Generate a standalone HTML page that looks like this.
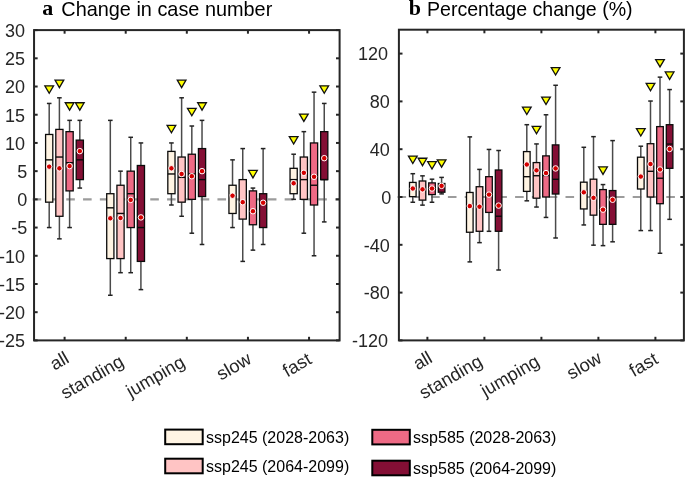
<!DOCTYPE html>
<html><head><meta charset="utf-8"><style>
html,body{margin:0;padding:0;background:#fff;}
svg{display:block;will-change:transform;}
.tk{font-family:"Liberation Sans",sans-serif;font-size:18px;fill:#262626;}
.xl{font-family:"Liberation Sans",sans-serif;font-size:18.3px;fill:#262626;}
.lg{font-family:"Liberation Sans",sans-serif;font-size:16px;fill:#000;}
.tt{font-family:"Liberation Sans",sans-serif;font-size:20.4px;fill:#000;}
.tb{font-family:"Liberation Serif",serif;font-weight:bold;font-size:22px;fill:#000;}
</style></head><body>
<svg width="685" height="477" viewBox="0 0 685 477">
<rect width="685" height="477" fill="#fff"/>
<line x1="32.65" y1="199.35" x2="339.6" y2="199.35" stroke="#9c9c9c" stroke-width="2.2" stroke-dasharray="8.6 8.2"/>
<line x1="49.20" y1="103.44" x2="49.20" y2="134.47" stroke="#4a4a4a" stroke-width="1.5"/>
<line x1="49.20" y1="202.18" x2="49.20" y2="227.56" stroke="#4a4a4a" stroke-width="1.5"/>
<line x1="46.90" y1="103.44" x2="51.50" y2="103.44" stroke="#222" stroke-width="1.5"/>
<line x1="46.90" y1="227.56" x2="51.50" y2="227.56" stroke="#222" stroke-width="1.5"/>
<rect x="45.60" y="134.47" width="7.20" height="67.70" fill="#FFF4E3" stroke="#0a0a0a" stroke-width="1.3"/>
<line x1="45.60" y1="159.86" x2="52.80" y2="159.86" stroke="#0a0a0a" stroke-width="1.4"/>
<circle cx="49.20" cy="166.63" r="2.75" fill="#D40000" stroke="#fff" stroke-width="1.0"/>
<path d="M44.85,85.84 L53.55,85.84 L49.20,93.24 Z" fill="#FFFF00" stroke="#111" stroke-width="1.3"/>
<line x1="59.40" y1="97.80" x2="59.40" y2="129.40" stroke="#4a4a4a" stroke-width="1.5"/>
<line x1="59.40" y1="216.28" x2="59.40" y2="238.85" stroke="#4a4a4a" stroke-width="1.5"/>
<line x1="57.10" y1="97.80" x2="61.70" y2="97.80" stroke="#222" stroke-width="1.5"/>
<line x1="57.10" y1="238.85" x2="61.70" y2="238.85" stroke="#222" stroke-width="1.5"/>
<rect x="55.80" y="129.40" width="7.20" height="86.88" fill="#FFC4C4" stroke="#0a0a0a" stroke-width="1.3"/>
<line x1="55.80" y1="157.04" x2="63.00" y2="157.04" stroke="#0a0a0a" stroke-width="1.4"/>
<circle cx="59.40" cy="168.32" r="2.75" fill="#D40000" stroke="#fff" stroke-width="1.0"/>
<path d="M55.05,80.20 L63.75,80.20 L59.40,87.60 Z" fill="#FFFF00" stroke="#111" stroke-width="1.3"/>
<line x1="69.60" y1="120.37" x2="69.60" y2="131.65" stroke="#4a4a4a" stroke-width="1.5"/>
<line x1="69.60" y1="190.89" x2="69.60" y2="227.56" stroke="#4a4a4a" stroke-width="1.5"/>
<line x1="67.30" y1="120.37" x2="71.90" y2="120.37" stroke="#222" stroke-width="1.5"/>
<line x1="67.30" y1="227.56" x2="71.90" y2="227.56" stroke="#222" stroke-width="1.5"/>
<rect x="66.00" y="131.65" width="7.20" height="59.24" fill="#EE6A85" stroke="#0a0a0a" stroke-width="1.3"/>
<line x1="66.00" y1="162.68" x2="73.20" y2="162.68" stroke="#0a0a0a" stroke-width="1.4"/>
<circle cx="69.60" cy="166.07" r="2.75" fill="#D40000" stroke="#fff" stroke-width="1.0"/>
<path d="M65.25,102.77 L73.95,102.77 L69.60,110.17 Z" fill="#FFFF00" stroke="#111" stroke-width="1.3"/>
<line x1="79.80" y1="120.37" x2="79.80" y2="140.12" stroke="#4a4a4a" stroke-width="1.5"/>
<line x1="79.80" y1="179.61" x2="79.80" y2="188.07" stroke="#4a4a4a" stroke-width="1.5"/>
<line x1="77.50" y1="120.37" x2="82.10" y2="120.37" stroke="#222" stroke-width="1.5"/>
<line x1="77.50" y1="188.07" x2="82.10" y2="188.07" stroke="#222" stroke-width="1.5"/>
<rect x="76.20" y="140.12" width="7.20" height="39.49" fill="#840F35" stroke="#0a0a0a" stroke-width="1.3"/>
<line x1="76.20" y1="159.86" x2="83.40" y2="159.86" stroke="#0a0a0a" stroke-width="1.4"/>
<circle cx="79.80" cy="151.12" r="2.75" fill="#D40000" stroke="#fff" stroke-width="1.0"/>
<path d="M75.45,102.77 L84.15,102.77 L79.80,110.17 Z" fill="#FFFF00" stroke="#111" stroke-width="1.3"/>
<line x1="110.31" y1="120.37" x2="110.31" y2="193.71" stroke="#4a4a4a" stroke-width="1.5"/>
<line x1="110.31" y1="258.59" x2="110.31" y2="295.27" stroke="#4a4a4a" stroke-width="1.5"/>
<line x1="108.02" y1="120.37" x2="112.61" y2="120.37" stroke="#222" stroke-width="1.5"/>
<line x1="108.02" y1="295.27" x2="112.61" y2="295.27" stroke="#222" stroke-width="1.5"/>
<rect x="106.72" y="193.71" width="7.20" height="64.88" fill="#FFF4E3" stroke="#0a0a0a" stroke-width="1.3"/>
<line x1="106.72" y1="207.82" x2="113.91" y2="207.82" stroke="#0a0a0a" stroke-width="1.4"/>
<circle cx="110.31" cy="218.31" r="2.75" fill="#D40000" stroke="#fff" stroke-width="1.0"/>
<line x1="120.52" y1="171.15" x2="120.52" y2="185.25" stroke="#4a4a4a" stroke-width="1.5"/>
<line x1="120.52" y1="258.59" x2="120.52" y2="272.70" stroke="#4a4a4a" stroke-width="1.5"/>
<line x1="118.22" y1="171.15" x2="122.81" y2="171.15" stroke="#222" stroke-width="1.5"/>
<line x1="118.22" y1="272.70" x2="122.81" y2="272.70" stroke="#222" stroke-width="1.5"/>
<rect x="116.92" y="185.25" width="7.20" height="73.34" fill="#FFC4C4" stroke="#0a0a0a" stroke-width="1.3"/>
<line x1="116.92" y1="213.46" x2="124.11" y2="213.46" stroke="#0a0a0a" stroke-width="1.4"/>
<circle cx="120.52" cy="217.97" r="2.75" fill="#D40000" stroke="#fff" stroke-width="1.0"/>
<line x1="130.72" y1="137.29" x2="130.72" y2="171.15" stroke="#4a4a4a" stroke-width="1.5"/>
<line x1="130.72" y1="227.56" x2="130.72" y2="272.70" stroke="#4a4a4a" stroke-width="1.5"/>
<line x1="128.41" y1="137.29" x2="133.02" y2="137.29" stroke="#222" stroke-width="1.5"/>
<line x1="128.41" y1="272.70" x2="133.02" y2="272.70" stroke="#222" stroke-width="1.5"/>
<rect x="127.12" y="171.15" width="7.20" height="56.42" fill="#EE6A85" stroke="#0a0a0a" stroke-width="1.3"/>
<line x1="127.12" y1="193.71" x2="134.31" y2="193.71" stroke="#0a0a0a" stroke-width="1.4"/>
<circle cx="130.72" cy="199.92" r="2.75" fill="#D40000" stroke="#fff" stroke-width="1.0"/>
<line x1="140.91" y1="142.94" x2="140.91" y2="165.50" stroke="#4a4a4a" stroke-width="1.5"/>
<line x1="140.91" y1="261.41" x2="140.91" y2="289.62" stroke="#4a4a4a" stroke-width="1.5"/>
<line x1="138.61" y1="142.94" x2="143.22" y2="142.94" stroke="#222" stroke-width="1.5"/>
<line x1="138.61" y1="289.62" x2="143.22" y2="289.62" stroke="#222" stroke-width="1.5"/>
<rect x="137.31" y="165.50" width="7.20" height="95.91" fill="#840F35" stroke="#0a0a0a" stroke-width="1.3"/>
<line x1="137.31" y1="227.56" x2="144.51" y2="227.56" stroke="#0a0a0a" stroke-width="1.4"/>
<circle cx="140.91" cy="217.41" r="2.75" fill="#D40000" stroke="#fff" stroke-width="1.0"/>
<line x1="171.42" y1="142.94" x2="171.42" y2="151.40" stroke="#4a4a4a" stroke-width="1.5"/>
<line x1="171.42" y1="193.71" x2="171.42" y2="205.00" stroke="#4a4a4a" stroke-width="1.5"/>
<line x1="169.12" y1="142.94" x2="173.72" y2="142.94" stroke="#222" stroke-width="1.5"/>
<line x1="169.12" y1="205.00" x2="173.72" y2="205.00" stroke="#222" stroke-width="1.5"/>
<rect x="167.82" y="151.40" width="7.20" height="42.31" fill="#FFF4E3" stroke="#0a0a0a" stroke-width="1.3"/>
<line x1="167.82" y1="173.97" x2="175.02" y2="173.97" stroke="#0a0a0a" stroke-width="1.4"/>
<circle cx="171.42" cy="168.32" r="2.75" fill="#D40000" stroke="#fff" stroke-width="1.0"/>
<path d="M167.07,125.34 L175.77,125.34 L171.42,132.74 Z" fill="#FFFF00" stroke="#111" stroke-width="1.3"/>
<line x1="181.62" y1="97.80" x2="181.62" y2="157.04" stroke="#4a4a4a" stroke-width="1.5"/>
<line x1="181.62" y1="202.18" x2="181.62" y2="216.28" stroke="#4a4a4a" stroke-width="1.5"/>
<line x1="179.32" y1="97.80" x2="183.93" y2="97.80" stroke="#222" stroke-width="1.5"/>
<line x1="179.32" y1="216.28" x2="183.93" y2="216.28" stroke="#222" stroke-width="1.5"/>
<rect x="178.03" y="157.04" width="7.20" height="45.13" fill="#FFC4C4" stroke="#0a0a0a" stroke-width="1.3"/>
<line x1="178.03" y1="177.35" x2="185.22" y2="177.35" stroke="#0a0a0a" stroke-width="1.4"/>
<circle cx="181.62" cy="173.97" r="2.75" fill="#D40000" stroke="#fff" stroke-width="1.0"/>
<path d="M177.28,80.20 L185.97,80.20 L181.62,87.60 Z" fill="#FFFF00" stroke="#111" stroke-width="1.3"/>
<line x1="191.82" y1="126.01" x2="191.82" y2="154.22" stroke="#4a4a4a" stroke-width="1.5"/>
<line x1="191.82" y1="199.35" x2="191.82" y2="233.21" stroke="#4a4a4a" stroke-width="1.5"/>
<line x1="189.52" y1="126.01" x2="194.12" y2="126.01" stroke="#222" stroke-width="1.5"/>
<line x1="189.52" y1="233.21" x2="194.12" y2="233.21" stroke="#222" stroke-width="1.5"/>
<rect x="188.22" y="154.22" width="7.20" height="45.13" fill="#EE6A85" stroke="#0a0a0a" stroke-width="1.3"/>
<line x1="188.22" y1="173.97" x2="195.42" y2="173.97" stroke="#0a0a0a" stroke-width="1.4"/>
<circle cx="191.82" cy="176.22" r="2.75" fill="#D40000" stroke="#fff" stroke-width="1.0"/>
<path d="M187.47,108.41 L196.17,108.41 L191.82,115.81 Z" fill="#FFFF00" stroke="#111" stroke-width="1.3"/>
<line x1="202.02" y1="120.37" x2="202.02" y2="148.58" stroke="#4a4a4a" stroke-width="1.5"/>
<line x1="202.02" y1="196.53" x2="202.02" y2="244.49" stroke="#4a4a4a" stroke-width="1.5"/>
<line x1="199.72" y1="120.37" x2="204.32" y2="120.37" stroke="#222" stroke-width="1.5"/>
<line x1="199.72" y1="244.49" x2="204.32" y2="244.49" stroke="#222" stroke-width="1.5"/>
<rect x="198.42" y="148.58" width="7.20" height="47.96" fill="#840F35" stroke="#0a0a0a" stroke-width="1.3"/>
<line x1="198.42" y1="179.61" x2="205.62" y2="179.61" stroke="#0a0a0a" stroke-width="1.4"/>
<circle cx="202.02" cy="171.15" r="2.75" fill="#D40000" stroke="#fff" stroke-width="1.0"/>
<path d="M197.67,102.77 L206.37,102.77 L202.02,110.17 Z" fill="#FFFF00" stroke="#111" stroke-width="1.3"/>
<line x1="232.53" y1="159.86" x2="232.53" y2="185.25" stroke="#4a4a4a" stroke-width="1.5"/>
<line x1="232.53" y1="213.46" x2="232.53" y2="227.56" stroke="#4a4a4a" stroke-width="1.5"/>
<line x1="230.23" y1="159.86" x2="234.84" y2="159.86" stroke="#222" stroke-width="1.5"/>
<line x1="230.23" y1="227.56" x2="234.84" y2="227.56" stroke="#222" stroke-width="1.5"/>
<rect x="228.94" y="185.25" width="7.20" height="28.21" fill="#FFF4E3" stroke="#0a0a0a" stroke-width="1.3"/>
<line x1="228.94" y1="195.97" x2="236.13" y2="195.97" stroke="#0a0a0a" stroke-width="1.4"/>
<circle cx="232.53" cy="195.69" r="2.75" fill="#D40000" stroke="#fff" stroke-width="1.0"/>
<line x1="242.74" y1="148.58" x2="242.74" y2="179.61" stroke="#4a4a4a" stroke-width="1.5"/>
<line x1="242.74" y1="219.10" x2="242.74" y2="261.41" stroke="#4a4a4a" stroke-width="1.5"/>
<line x1="240.44" y1="148.58" x2="245.04" y2="148.58" stroke="#222" stroke-width="1.5"/>
<line x1="240.44" y1="261.41" x2="245.04" y2="261.41" stroke="#222" stroke-width="1.5"/>
<rect x="239.14" y="179.61" width="7.20" height="39.49" fill="#FFC4C4" stroke="#0a0a0a" stroke-width="1.3"/>
<line x1="239.14" y1="202.18" x2="246.34" y2="202.18" stroke="#0a0a0a" stroke-width="1.4"/>
<circle cx="242.74" cy="202.18" r="2.75" fill="#D40000" stroke="#fff" stroke-width="1.0"/>
<line x1="252.94" y1="188.07" x2="252.94" y2="190.89" stroke="#4a4a4a" stroke-width="1.5"/>
<line x1="252.94" y1="224.74" x2="252.94" y2="250.13" stroke="#4a4a4a" stroke-width="1.5"/>
<line x1="250.63" y1="188.07" x2="255.24" y2="188.07" stroke="#222" stroke-width="1.5"/>
<line x1="250.63" y1="250.13" x2="255.24" y2="250.13" stroke="#222" stroke-width="1.5"/>
<rect x="249.34" y="190.89" width="7.20" height="33.85" fill="#EE6A85" stroke="#0a0a0a" stroke-width="1.3"/>
<line x1="249.34" y1="210.64" x2="256.54" y2="210.64" stroke="#0a0a0a" stroke-width="1.4"/>
<circle cx="252.94" cy="211.20" r="2.75" fill="#D40000" stroke="#fff" stroke-width="1.0"/>
<path d="M248.59,170.47 L257.29,170.47 L252.94,177.87 Z" fill="#FFFF00" stroke="#111" stroke-width="1.3"/>
<line x1="263.13" y1="148.58" x2="263.13" y2="193.71" stroke="#4a4a4a" stroke-width="1.5"/>
<line x1="263.13" y1="227.56" x2="263.13" y2="244.49" stroke="#4a4a4a" stroke-width="1.5"/>
<line x1="260.83" y1="148.58" x2="265.44" y2="148.58" stroke="#222" stroke-width="1.5"/>
<line x1="260.83" y1="244.49" x2="265.44" y2="244.49" stroke="#222" stroke-width="1.5"/>
<rect x="259.53" y="193.71" width="7.20" height="33.85" fill="#840F35" stroke="#0a0a0a" stroke-width="1.3"/>
<line x1="259.53" y1="202.74" x2="266.74" y2="202.74" stroke="#0a0a0a" stroke-width="1.4"/>
<circle cx="263.13" cy="202.74" r="2.75" fill="#D40000" stroke="#fff" stroke-width="1.0"/>
<line x1="293.65" y1="154.22" x2="293.65" y2="168.32" stroke="#4a4a4a" stroke-width="1.5"/>
<line x1="293.65" y1="193.71" x2="293.65" y2="199.35" stroke="#4a4a4a" stroke-width="1.5"/>
<line x1="291.35" y1="154.22" x2="295.95" y2="154.22" stroke="#222" stroke-width="1.5"/>
<line x1="291.35" y1="199.35" x2="295.95" y2="199.35" stroke="#222" stroke-width="1.5"/>
<rect x="290.05" y="168.32" width="7.20" height="25.39" fill="#FFF4E3" stroke="#0a0a0a" stroke-width="1.3"/>
<line x1="290.05" y1="179.61" x2="297.25" y2="179.61" stroke="#0a0a0a" stroke-width="1.4"/>
<circle cx="293.65" cy="183.28" r="2.75" fill="#D40000" stroke="#fff" stroke-width="1.0"/>
<path d="M289.30,136.62 L298.00,136.62 L293.65,144.02 Z" fill="#FFFF00" stroke="#111" stroke-width="1.3"/>
<line x1="303.85" y1="131.65" x2="303.85" y2="157.04" stroke="#4a4a4a" stroke-width="1.5"/>
<line x1="303.85" y1="199.35" x2="303.85" y2="233.21" stroke="#4a4a4a" stroke-width="1.5"/>
<line x1="301.55" y1="131.65" x2="306.15" y2="131.65" stroke="#222" stroke-width="1.5"/>
<line x1="301.55" y1="233.21" x2="306.15" y2="233.21" stroke="#222" stroke-width="1.5"/>
<rect x="300.25" y="157.04" width="7.20" height="42.31" fill="#FFC4C4" stroke="#0a0a0a" stroke-width="1.3"/>
<line x1="300.25" y1="179.61" x2="307.45" y2="179.61" stroke="#0a0a0a" stroke-width="1.4"/>
<circle cx="303.85" cy="172.84" r="2.75" fill="#D40000" stroke="#fff" stroke-width="1.0"/>
<path d="M299.50,114.05 L308.20,114.05 L303.85,121.45 Z" fill="#FFFF00" stroke="#111" stroke-width="1.3"/>
<line x1="314.05" y1="92.16" x2="314.05" y2="142.94" stroke="#4a4a4a" stroke-width="1.5"/>
<line x1="314.05" y1="205.00" x2="314.05" y2="255.77" stroke="#4a4a4a" stroke-width="1.5"/>
<line x1="311.75" y1="92.16" x2="316.35" y2="92.16" stroke="#222" stroke-width="1.5"/>
<line x1="311.75" y1="255.77" x2="316.35" y2="255.77" stroke="#222" stroke-width="1.5"/>
<rect x="310.44" y="142.94" width="7.20" height="62.06" fill="#EE6A85" stroke="#0a0a0a" stroke-width="1.3"/>
<line x1="310.44" y1="185.25" x2="317.65" y2="185.25" stroke="#0a0a0a" stroke-width="1.4"/>
<circle cx="314.05" cy="176.79" r="2.75" fill="#D40000" stroke="#fff" stroke-width="1.0"/>
<line x1="324.25" y1="103.44" x2="324.25" y2="131.65" stroke="#4a4a4a" stroke-width="1.5"/>
<line x1="324.25" y1="179.61" x2="324.25" y2="221.92" stroke="#4a4a4a" stroke-width="1.5"/>
<line x1="321.94" y1="103.44" x2="326.55" y2="103.44" stroke="#222" stroke-width="1.5"/>
<line x1="321.94" y1="221.92" x2="326.55" y2="221.92" stroke="#222" stroke-width="1.5"/>
<rect x="320.64" y="131.65" width="7.20" height="47.96" fill="#840F35" stroke="#0a0a0a" stroke-width="1.3"/>
<line x1="320.64" y1="179.61" x2="327.85" y2="179.61" stroke="#0a0a0a" stroke-width="1.4"/>
<circle cx="324.25" cy="158.17" r="2.75" fill="#D40000" stroke="#fff" stroke-width="1.0"/>
<path d="M319.89,85.84 L328.60,85.84 L324.25,93.24 Z" fill="#FFFF00" stroke="#111" stroke-width="1.3"/>
<rect x="34.05" y="30.1" width="305.55" height="310.30" fill="none" stroke="#262626" stroke-width="2"/>
<line x1="34.05" y1="30.10" x2="37.65" y2="30.10" stroke="#262626" stroke-width="2"/>
<line x1="339.6" y1="30.10" x2="336.0" y2="30.10" stroke="#262626" stroke-width="2"/>
<text x="25.10" y="36.90" text-anchor="end" class="tk">30</text>
<line x1="34.05" y1="58.31" x2="37.65" y2="58.31" stroke="#262626" stroke-width="2"/>
<line x1="339.6" y1="58.31" x2="336.0" y2="58.31" stroke="#262626" stroke-width="2"/>
<text x="25.10" y="65.11" text-anchor="end" class="tk">25</text>
<line x1="34.05" y1="86.52" x2="37.65" y2="86.52" stroke="#262626" stroke-width="2"/>
<line x1="339.6" y1="86.52" x2="336.0" y2="86.52" stroke="#262626" stroke-width="2"/>
<text x="25.10" y="93.32" text-anchor="end" class="tk">20</text>
<line x1="34.05" y1="114.73" x2="37.65" y2="114.73" stroke="#262626" stroke-width="2"/>
<line x1="339.6" y1="114.73" x2="336.0" y2="114.73" stroke="#262626" stroke-width="2"/>
<text x="25.10" y="121.53" text-anchor="end" class="tk">15</text>
<line x1="34.05" y1="142.94" x2="37.65" y2="142.94" stroke="#262626" stroke-width="2"/>
<line x1="339.6" y1="142.94" x2="336.0" y2="142.94" stroke="#262626" stroke-width="2"/>
<text x="25.10" y="149.74" text-anchor="end" class="tk">10</text>
<line x1="34.05" y1="171.15" x2="37.65" y2="171.15" stroke="#262626" stroke-width="2"/>
<line x1="339.6" y1="171.15" x2="336.0" y2="171.15" stroke="#262626" stroke-width="2"/>
<text x="27.20" y="177.95" text-anchor="end" class="tk">5</text>
<line x1="34.05" y1="199.35" x2="37.65" y2="199.35" stroke="#262626" stroke-width="2"/>
<line x1="339.6" y1="199.35" x2="336.0" y2="199.35" stroke="#262626" stroke-width="2"/>
<text x="27.20" y="206.15" text-anchor="end" class="tk">0</text>
<line x1="34.05" y1="227.56" x2="37.65" y2="227.56" stroke="#262626" stroke-width="2"/>
<line x1="339.6" y1="227.56" x2="336.0" y2="227.56" stroke="#262626" stroke-width="2"/>
<text x="27.20" y="234.36" text-anchor="end" class="tk">-5</text>
<line x1="34.05" y1="255.77" x2="37.65" y2="255.77" stroke="#262626" stroke-width="2"/>
<line x1="339.6" y1="255.77" x2="336.0" y2="255.77" stroke="#262626" stroke-width="2"/>
<text x="25.10" y="262.57" text-anchor="end" class="tk">-10</text>
<line x1="34.05" y1="283.98" x2="37.65" y2="283.98" stroke="#262626" stroke-width="2"/>
<line x1="339.6" y1="283.98" x2="336.0" y2="283.98" stroke="#262626" stroke-width="2"/>
<text x="25.10" y="290.78" text-anchor="end" class="tk">-15</text>
<line x1="34.05" y1="312.19" x2="37.65" y2="312.19" stroke="#262626" stroke-width="2"/>
<line x1="339.6" y1="312.19" x2="336.0" y2="312.19" stroke="#262626" stroke-width="2"/>
<text x="25.10" y="318.99" text-anchor="end" class="tk">-20</text>
<line x1="34.05" y1="340.40" x2="37.65" y2="340.40" stroke="#262626" stroke-width="2"/>
<line x1="339.6" y1="340.40" x2="336.0" y2="340.40" stroke="#262626" stroke-width="2"/>
<text x="25.10" y="347.20" text-anchor="end" class="tk">-25</text>
<line x1="64.60" y1="340.4" x2="64.60" y2="336.79999999999995" stroke="#262626" stroke-width="2"/>
<line x1="64.60" y1="30.1" x2="64.60" y2="33.7" stroke="#262626" stroke-width="2"/>
<text transform="translate(70.30,361.70) rotate(-30)" text-anchor="end" class="xl">all</text>
<line x1="125.72" y1="340.4" x2="125.72" y2="336.79999999999995" stroke="#262626" stroke-width="2"/>
<line x1="125.72" y1="30.1" x2="125.72" y2="33.7" stroke="#262626" stroke-width="2"/>
<text transform="translate(125.15,365.00) rotate(-30)" text-anchor="end" class="xl">standing</text>
<line x1="186.82" y1="340.4" x2="186.82" y2="336.79999999999995" stroke="#262626" stroke-width="2"/>
<line x1="186.82" y1="30.1" x2="186.82" y2="33.7" stroke="#262626" stroke-width="2"/>
<text transform="translate(186.20,365.65) rotate(-30)" text-anchor="end" class="xl">jumping</text>
<line x1="247.94" y1="340.4" x2="247.94" y2="336.79999999999995" stroke="#262626" stroke-width="2"/>
<line x1="247.94" y1="30.1" x2="247.94" y2="33.7" stroke="#262626" stroke-width="2"/>
<text transform="translate(252.70,362.50) rotate(-30)" text-anchor="end" class="xl">slow</text>
<line x1="309.05" y1="340.4" x2="309.05" y2="336.79999999999995" stroke="#262626" stroke-width="2"/>
<line x1="309.05" y1="30.1" x2="309.05" y2="33.7" stroke="#262626" stroke-width="2"/>
<text transform="translate(312.80,362.70) rotate(-30)" text-anchor="end" class="xl">fast</text>
<line x1="397.50" y1="197.00" x2="683.9" y2="197.00" stroke="#9c9c9c" stroke-width="2.2" stroke-dasharray="8.6 8.2"/>
<line x1="412.80" y1="173.70" x2="412.80" y2="182.42" stroke="#4a4a4a" stroke-width="1.5"/>
<line x1="412.80" y1="196.64" x2="412.80" y2="202.26" stroke="#4a4a4a" stroke-width="1.5"/>
<line x1="410.50" y1="173.70" x2="415.10" y2="173.70" stroke="#222" stroke-width="1.5"/>
<line x1="410.50" y1="202.26" x2="415.10" y2="202.26" stroke="#222" stroke-width="1.5"/>
<rect x="409.50" y="182.42" width="6.60" height="14.22" fill="#FFF4E3" stroke="#0a0a0a" stroke-width="1.3"/>
<line x1="409.50" y1="188.52" x2="416.10" y2="188.52" stroke="#0a0a0a" stroke-width="1.4"/>
<circle cx="412.80" cy="188.52" r="2.75" fill="#D40000" stroke="#fff" stroke-width="1.0"/>
<path d="M408.45,156.10 L417.15,156.10 L412.80,163.50 Z" fill="#FFFF00" stroke="#111" stroke-width="1.3"/>
<line x1="422.50" y1="175.85" x2="422.50" y2="180.99" stroke="#4a4a4a" stroke-width="1.5"/>
<line x1="422.50" y1="200.11" x2="422.50" y2="205.13" stroke="#4a4a4a" stroke-width="1.5"/>
<line x1="420.20" y1="175.85" x2="424.80" y2="175.85" stroke="#222" stroke-width="1.5"/>
<line x1="420.20" y1="205.13" x2="424.80" y2="205.13" stroke="#222" stroke-width="1.5"/>
<rect x="419.20" y="180.99" width="6.60" height="19.12" fill="#FFC4C4" stroke="#0a0a0a" stroke-width="1.3"/>
<line x1="419.20" y1="189.35" x2="425.80" y2="189.35" stroke="#0a0a0a" stroke-width="1.4"/>
<circle cx="422.50" cy="189.35" r="2.75" fill="#D40000" stroke="#fff" stroke-width="1.0"/>
<path d="M418.15,158.25 L426.85,158.25 L422.50,165.65 Z" fill="#FFFF00" stroke="#111" stroke-width="1.3"/>
<line x1="432.00" y1="179.19" x2="432.00" y2="182.90" stroke="#4a4a4a" stroke-width="1.5"/>
<line x1="432.00" y1="194.61" x2="432.00" y2="202.26" stroke="#4a4a4a" stroke-width="1.5"/>
<line x1="429.70" y1="179.19" x2="434.30" y2="179.19" stroke="#222" stroke-width="1.5"/>
<line x1="429.70" y1="202.26" x2="434.30" y2="202.26" stroke="#222" stroke-width="1.5"/>
<rect x="428.70" y="182.90" width="6.60" height="11.71" fill="#EE6A85" stroke="#0a0a0a" stroke-width="1.3"/>
<line x1="428.70" y1="188.52" x2="435.30" y2="188.52" stroke="#0a0a0a" stroke-width="1.4"/>
<circle cx="432.00" cy="188.52" r="2.75" fill="#D40000" stroke="#fff" stroke-width="1.0"/>
<path d="M427.65,161.59 L436.35,161.59 L432.00,168.99 Z" fill="#FFFF00" stroke="#111" stroke-width="1.3"/>
<line x1="441.60" y1="177.40" x2="441.60" y2="183.50" stroke="#4a4a4a" stroke-width="1.5"/>
<line x1="441.60" y1="192.22" x2="441.60" y2="193.89" stroke="#4a4a4a" stroke-width="1.5"/>
<line x1="439.30" y1="177.40" x2="443.90" y2="177.40" stroke="#222" stroke-width="1.5"/>
<line x1="439.30" y1="193.89" x2="443.90" y2="193.89" stroke="#222" stroke-width="1.5"/>
<rect x="438.30" y="183.50" width="6.60" height="8.72" fill="#840F35" stroke="#0a0a0a" stroke-width="1.3"/>
<line x1="438.30" y1="185.89" x2="444.90" y2="185.89" stroke="#0a0a0a" stroke-width="1.4"/>
<circle cx="441.60" cy="185.89" r="2.75" fill="#D40000" stroke="#fff" stroke-width="1.0"/>
<path d="M437.25,159.80 L445.95,159.80 L441.60,167.20 Z" fill="#FFFF00" stroke="#111" stroke-width="1.3"/>
<line x1="469.80" y1="136.89" x2="469.80" y2="192.46" stroke="#4a4a4a" stroke-width="1.5"/>
<line x1="469.80" y1="232.25" x2="469.80" y2="261.89" stroke="#4a4a4a" stroke-width="1.5"/>
<line x1="467.50" y1="136.89" x2="472.10" y2="136.89" stroke="#222" stroke-width="1.5"/>
<line x1="467.50" y1="261.89" x2="472.10" y2="261.89" stroke="#222" stroke-width="1.5"/>
<rect x="466.50" y="192.46" width="6.60" height="39.79" fill="#FFF4E3" stroke="#0a0a0a" stroke-width="1.3"/>
<line x1="466.50" y1="206.08" x2="473.10" y2="206.08" stroke="#0a0a0a" stroke-width="1.4"/>
<circle cx="469.80" cy="206.08" r="2.75" fill="#D40000" stroke="#fff" stroke-width="1.0"/>
<line x1="479.50" y1="169.40" x2="479.50" y2="186.72" stroke="#4a4a4a" stroke-width="1.5"/>
<line x1="479.50" y1="231.30" x2="479.50" y2="242.65" stroke="#4a4a4a" stroke-width="1.5"/>
<line x1="477.20" y1="169.40" x2="481.80" y2="169.40" stroke="#222" stroke-width="1.5"/>
<line x1="477.20" y1="242.65" x2="481.80" y2="242.65" stroke="#222" stroke-width="1.5"/>
<rect x="476.20" y="186.72" width="6.60" height="44.57" fill="#FFC4C4" stroke="#0a0a0a" stroke-width="1.3"/>
<line x1="476.20" y1="206.68" x2="482.80" y2="206.68" stroke="#0a0a0a" stroke-width="1.4"/>
<circle cx="479.50" cy="206.68" r="2.75" fill="#D40000" stroke="#fff" stroke-width="1.0"/>
<line x1="489.00" y1="149.44" x2="489.00" y2="176.68" stroke="#4a4a4a" stroke-width="1.5"/>
<line x1="489.00" y1="212.42" x2="489.00" y2="231.30" stroke="#4a4a4a" stroke-width="1.5"/>
<line x1="486.70" y1="149.44" x2="491.30" y2="149.44" stroke="#222" stroke-width="1.5"/>
<line x1="486.70" y1="231.30" x2="491.30" y2="231.30" stroke="#222" stroke-width="1.5"/>
<rect x="485.70" y="176.68" width="6.60" height="35.73" fill="#EE6A85" stroke="#0a0a0a" stroke-width="1.3"/>
<line x1="485.70" y1="194.61" x2="492.30" y2="194.61" stroke="#0a0a0a" stroke-width="1.4"/>
<circle cx="489.00" cy="194.61" r="2.75" fill="#D40000" stroke="#fff" stroke-width="1.0"/>
<line x1="498.60" y1="150.51" x2="498.60" y2="169.99" stroke="#4a4a4a" stroke-width="1.5"/>
<line x1="498.60" y1="231.30" x2="498.60" y2="270.01" stroke="#4a4a4a" stroke-width="1.5"/>
<line x1="496.30" y1="150.51" x2="500.90" y2="150.51" stroke="#222" stroke-width="1.5"/>
<line x1="496.30" y1="270.01" x2="500.90" y2="270.01" stroke="#222" stroke-width="1.5"/>
<rect x="495.30" y="169.99" width="6.60" height="61.30" fill="#840F35" stroke="#0a0a0a" stroke-width="1.3"/>
<line x1="495.30" y1="216.24" x2="501.90" y2="216.24" stroke="#0a0a0a" stroke-width="1.4"/>
<circle cx="498.60" cy="205.60" r="2.75" fill="#D40000" stroke="#fff" stroke-width="1.0"/>
<line x1="526.80" y1="124.70" x2="526.80" y2="151.59" stroke="#4a4a4a" stroke-width="1.5"/>
<line x1="526.80" y1="191.38" x2="526.80" y2="200.82" stroke="#4a4a4a" stroke-width="1.5"/>
<line x1="524.50" y1="124.70" x2="529.10" y2="124.70" stroke="#222" stroke-width="1.5"/>
<line x1="524.50" y1="200.82" x2="529.10" y2="200.82" stroke="#222" stroke-width="1.5"/>
<rect x="523.50" y="151.59" width="6.60" height="39.79" fill="#FFF4E3" stroke="#0a0a0a" stroke-width="1.3"/>
<line x1="523.50" y1="176.68" x2="530.10" y2="176.68" stroke="#0a0a0a" stroke-width="1.4"/>
<circle cx="526.80" cy="164.50" r="2.75" fill="#D40000" stroke="#fff" stroke-width="1.0"/>
<path d="M522.45,107.10 L531.15,107.10 L526.80,114.50 Z" fill="#FFFF00" stroke="#111" stroke-width="1.3"/>
<line x1="536.50" y1="143.94" x2="536.50" y2="162.58" stroke="#4a4a4a" stroke-width="1.5"/>
<line x1="536.50" y1="198.19" x2="536.50" y2="207.04" stroke="#4a4a4a" stroke-width="1.5"/>
<line x1="534.20" y1="143.94" x2="538.80" y2="143.94" stroke="#222" stroke-width="1.5"/>
<line x1="534.20" y1="207.04" x2="538.80" y2="207.04" stroke="#222" stroke-width="1.5"/>
<rect x="533.20" y="162.58" width="6.60" height="35.61" fill="#FFC4C4" stroke="#0a0a0a" stroke-width="1.3"/>
<line x1="533.20" y1="175.73" x2="539.80" y2="175.73" stroke="#0a0a0a" stroke-width="1.4"/>
<circle cx="536.50" cy="170.35" r="2.75" fill="#D40000" stroke="#fff" stroke-width="1.0"/>
<path d="M532.15,126.34 L540.85,126.34 L536.50,133.74 Z" fill="#FFFF00" stroke="#111" stroke-width="1.3"/>
<line x1="546.00" y1="114.78" x2="546.00" y2="155.89" stroke="#4a4a4a" stroke-width="1.5"/>
<line x1="546.00" y1="197.00" x2="546.00" y2="217.43" stroke="#4a4a4a" stroke-width="1.5"/>
<line x1="543.70" y1="114.78" x2="548.30" y2="114.78" stroke="#222" stroke-width="1.5"/>
<line x1="543.70" y1="217.43" x2="548.30" y2="217.43" stroke="#222" stroke-width="1.5"/>
<rect x="542.70" y="155.89" width="6.60" height="41.11" fill="#EE6A85" stroke="#0a0a0a" stroke-width="1.3"/>
<line x1="542.70" y1="175.49" x2="549.30" y2="175.49" stroke="#0a0a0a" stroke-width="1.4"/>
<circle cx="546.00" cy="173.10" r="2.75" fill="#D40000" stroke="#fff" stroke-width="1.0"/>
<path d="M541.65,97.18 L550.35,97.18 L546.00,104.58 Z" fill="#FFFF00" stroke="#111" stroke-width="1.3"/>
<line x1="555.60" y1="85.27" x2="555.60" y2="144.90" stroke="#4a4a4a" stroke-width="1.5"/>
<line x1="555.60" y1="194.01" x2="555.60" y2="237.99" stroke="#4a4a4a" stroke-width="1.5"/>
<line x1="553.30" y1="85.27" x2="557.90" y2="85.27" stroke="#222" stroke-width="1.5"/>
<line x1="553.30" y1="237.99" x2="557.90" y2="237.99" stroke="#222" stroke-width="1.5"/>
<rect x="552.30" y="144.90" width="6.60" height="49.11" fill="#840F35" stroke="#0a0a0a" stroke-width="1.3"/>
<line x1="552.30" y1="179.31" x2="558.90" y2="179.31" stroke="#0a0a0a" stroke-width="1.4"/>
<circle cx="555.60" cy="168.44" r="2.75" fill="#D40000" stroke="#fff" stroke-width="1.0"/>
<path d="M551.25,67.67 L559.95,67.67 L555.60,75.07 Z" fill="#FFFF00" stroke="#111" stroke-width="1.3"/>
<line x1="583.80" y1="147.29" x2="583.80" y2="182.18" stroke="#4a4a4a" stroke-width="1.5"/>
<line x1="583.80" y1="208.95" x2="583.80" y2="224.96" stroke="#4a4a4a" stroke-width="1.5"/>
<line x1="581.50" y1="147.29" x2="586.10" y2="147.29" stroke="#222" stroke-width="1.5"/>
<line x1="581.50" y1="224.96" x2="586.10" y2="224.96" stroke="#222" stroke-width="1.5"/>
<rect x="580.50" y="182.18" width="6.60" height="26.77" fill="#FFF4E3" stroke="#0a0a0a" stroke-width="1.3"/>
<line x1="580.50" y1="192.34" x2="587.10" y2="192.34" stroke="#0a0a0a" stroke-width="1.4"/>
<circle cx="583.80" cy="192.34" r="2.75" fill="#D40000" stroke="#fff" stroke-width="1.0"/>
<line x1="593.50" y1="136.65" x2="593.50" y2="179.19" stroke="#4a4a4a" stroke-width="1.5"/>
<line x1="593.50" y1="215.16" x2="593.50" y2="245.16" stroke="#4a4a4a" stroke-width="1.5"/>
<line x1="591.20" y1="136.65" x2="595.80" y2="136.65" stroke="#222" stroke-width="1.5"/>
<line x1="591.20" y1="245.16" x2="595.80" y2="245.16" stroke="#222" stroke-width="1.5"/>
<rect x="590.20" y="179.19" width="6.60" height="35.97" fill="#FFC4C4" stroke="#0a0a0a" stroke-width="1.3"/>
<line x1="590.20" y1="197.84" x2="596.80" y2="197.84" stroke="#0a0a0a" stroke-width="1.4"/>
<circle cx="593.50" cy="197.84" r="2.75" fill="#D40000" stroke="#fff" stroke-width="1.0"/>
<line x1="603.00" y1="184.57" x2="603.00" y2="189.59" stroke="#4a4a4a" stroke-width="1.5"/>
<line x1="603.00" y1="224.37" x2="603.00" y2="245.64" stroke="#4a4a4a" stroke-width="1.5"/>
<line x1="600.70" y1="184.57" x2="605.30" y2="184.57" stroke="#222" stroke-width="1.5"/>
<line x1="600.70" y1="245.64" x2="605.30" y2="245.64" stroke="#222" stroke-width="1.5"/>
<rect x="599.70" y="189.59" width="6.60" height="34.77" fill="#EE6A85" stroke="#0a0a0a" stroke-width="1.3"/>
<line x1="599.70" y1="209.67" x2="606.30" y2="209.67" stroke="#0a0a0a" stroke-width="1.4"/>
<circle cx="603.00" cy="209.67" r="2.75" fill="#D40000" stroke="#fff" stroke-width="1.0"/>
<path d="M598.65,166.97 L607.35,166.97 L603.00,174.37 Z" fill="#FFFF00" stroke="#111" stroke-width="1.3"/>
<line x1="612.60" y1="140.60" x2="612.60" y2="190.55" stroke="#4a4a4a" stroke-width="1.5"/>
<line x1="612.60" y1="224.37" x2="612.60" y2="241.81" stroke="#4a4a4a" stroke-width="1.5"/>
<line x1="610.30" y1="140.60" x2="614.90" y2="140.60" stroke="#222" stroke-width="1.5"/>
<line x1="610.30" y1="241.81" x2="614.90" y2="241.81" stroke="#222" stroke-width="1.5"/>
<rect x="609.30" y="190.55" width="6.60" height="33.82" fill="#840F35" stroke="#0a0a0a" stroke-width="1.3"/>
<line x1="609.30" y1="199.75" x2="615.90" y2="199.75" stroke="#0a0a0a" stroke-width="1.4"/>
<circle cx="612.60" cy="199.75" r="2.75" fill="#D40000" stroke="#fff" stroke-width="1.0"/>
<line x1="640.80" y1="146.21" x2="640.80" y2="157.21" stroke="#4a4a4a" stroke-width="1.5"/>
<line x1="640.80" y1="188.99" x2="640.80" y2="230.58" stroke="#4a4a4a" stroke-width="1.5"/>
<line x1="638.50" y1="146.21" x2="643.10" y2="146.21" stroke="#222" stroke-width="1.5"/>
<line x1="638.50" y1="230.58" x2="643.10" y2="230.58" stroke="#222" stroke-width="1.5"/>
<rect x="637.50" y="157.21" width="6.60" height="31.79" fill="#FFF4E3" stroke="#0a0a0a" stroke-width="1.3"/>
<line x1="637.50" y1="176.57" x2="644.10" y2="176.57" stroke="#0a0a0a" stroke-width="1.4"/>
<circle cx="640.80" cy="176.57" r="2.75" fill="#D40000" stroke="#fff" stroke-width="1.0"/>
<path d="M636.45,128.61 L645.15,128.61 L640.80,136.01 Z" fill="#FFFF00" stroke="#111" stroke-width="1.3"/>
<line x1="650.50" y1="101.04" x2="650.50" y2="143.70" stroke="#4a4a4a" stroke-width="1.5"/>
<line x1="650.50" y1="197.00" x2="650.50" y2="230.58" stroke="#4a4a4a" stroke-width="1.5"/>
<line x1="648.20" y1="101.04" x2="652.80" y2="101.04" stroke="#222" stroke-width="1.5"/>
<line x1="648.20" y1="230.58" x2="652.80" y2="230.58" stroke="#222" stroke-width="1.5"/>
<rect x="647.20" y="143.70" width="6.60" height="53.30" fill="#FFC4C4" stroke="#0a0a0a" stroke-width="1.3"/>
<line x1="647.20" y1="171.31" x2="653.80" y2="171.31" stroke="#0a0a0a" stroke-width="1.4"/>
<circle cx="650.50" cy="164.02" r="2.75" fill="#D40000" stroke="#fff" stroke-width="1.0"/>
<path d="M646.15,83.44 L654.85,83.44 L650.50,90.84 Z" fill="#FFFF00" stroke="#111" stroke-width="1.3"/>
<line x1="660.00" y1="77.14" x2="660.00" y2="126.61" stroke="#4a4a4a" stroke-width="1.5"/>
<line x1="660.00" y1="203.69" x2="660.00" y2="253.28" stroke="#4a4a4a" stroke-width="1.5"/>
<line x1="657.70" y1="77.14" x2="662.30" y2="77.14" stroke="#222" stroke-width="1.5"/>
<line x1="657.70" y1="253.28" x2="662.30" y2="253.28" stroke="#222" stroke-width="1.5"/>
<rect x="656.70" y="126.61" width="6.60" height="77.08" fill="#EE6A85" stroke="#0a0a0a" stroke-width="1.3"/>
<line x1="656.70" y1="178.24" x2="663.30" y2="178.24" stroke="#0a0a0a" stroke-width="1.4"/>
<circle cx="660.00" cy="169.51" r="2.75" fill="#D40000" stroke="#fff" stroke-width="1.0"/>
<path d="M655.65,59.54 L664.35,59.54 L660.00,66.94 Z" fill="#FFFF00" stroke="#111" stroke-width="1.3"/>
<line x1="669.60" y1="89.57" x2="669.60" y2="124.70" stroke="#4a4a4a" stroke-width="1.5"/>
<line x1="669.60" y1="168.32" x2="669.60" y2="219.35" stroke="#4a4a4a" stroke-width="1.5"/>
<line x1="667.30" y1="89.57" x2="671.90" y2="89.57" stroke="#222" stroke-width="1.5"/>
<line x1="667.30" y1="219.35" x2="671.90" y2="219.35" stroke="#222" stroke-width="1.5"/>
<rect x="666.30" y="124.70" width="6.60" height="43.62" fill="#840F35" stroke="#0a0a0a" stroke-width="1.3"/>
<line x1="666.30" y1="144.06" x2="672.90" y2="144.06" stroke="#0a0a0a" stroke-width="1.4"/>
<circle cx="669.60" cy="148.96" r="2.75" fill="#D40000" stroke="#fff" stroke-width="1.0"/>
<path d="M665.25,71.97 L673.95,71.97 L669.60,79.37 Z" fill="#FFFF00" stroke="#111" stroke-width="1.3"/>
<rect x="398.9" y="29.7" width="285.00" height="310.70" fill="none" stroke="#262626" stroke-width="2"/>
<line x1="398.9" y1="53.60" x2="402.5" y2="53.60" stroke="#262626" stroke-width="2"/>
<line x1="683.9" y1="53.60" x2="680.3" y2="53.60" stroke="#262626" stroke-width="2"/>
<text x="388.00" y="60.40" text-anchor="end" class="tk">120</text>
<line x1="398.9" y1="101.40" x2="402.5" y2="101.40" stroke="#262626" stroke-width="2"/>
<line x1="683.9" y1="101.40" x2="680.3" y2="101.40" stroke="#262626" stroke-width="2"/>
<text x="389.70" y="108.20" text-anchor="end" class="tk">80</text>
<line x1="398.9" y1="149.20" x2="402.5" y2="149.20" stroke="#262626" stroke-width="2"/>
<line x1="683.9" y1="149.20" x2="680.3" y2="149.20" stroke="#262626" stroke-width="2"/>
<text x="389.70" y="156.00" text-anchor="end" class="tk">40</text>
<line x1="398.9" y1="197.00" x2="402.5" y2="197.00" stroke="#262626" stroke-width="2"/>
<line x1="683.9" y1="197.00" x2="680.3" y2="197.00" stroke="#262626" stroke-width="2"/>
<text x="391.30" y="203.80" text-anchor="end" class="tk">0</text>
<line x1="398.9" y1="244.80" x2="402.5" y2="244.80" stroke="#262626" stroke-width="2"/>
<line x1="683.9" y1="244.80" x2="680.3" y2="244.80" stroke="#262626" stroke-width="2"/>
<text x="389.70" y="251.60" text-anchor="end" class="tk">-40</text>
<line x1="398.9" y1="292.60" x2="402.5" y2="292.60" stroke="#262626" stroke-width="2"/>
<line x1="683.9" y1="292.60" x2="680.3" y2="292.60" stroke="#262626" stroke-width="2"/>
<text x="389.70" y="299.40" text-anchor="end" class="tk">-80</text>
<line x1="398.9" y1="340.40" x2="402.5" y2="340.40" stroke="#262626" stroke-width="2"/>
<line x1="683.9" y1="340.40" x2="680.3" y2="340.40" stroke="#262626" stroke-width="2"/>
<text x="388.00" y="347.20" text-anchor="end" class="tk">-120</text>
<line x1="427.40" y1="340.4" x2="427.40" y2="336.79999999999995" stroke="#262626" stroke-width="2"/>
<line x1="427.40" y1="29.7" x2="427.40" y2="33.3" stroke="#262626" stroke-width="2"/>
<text transform="translate(433.60,361.45) rotate(-30)" text-anchor="end" class="xl">all</text>
<line x1="484.40" y1="340.4" x2="484.40" y2="336.79999999999995" stroke="#262626" stroke-width="2"/>
<line x1="484.40" y1="29.7" x2="484.40" y2="33.3" stroke="#262626" stroke-width="2"/>
<text transform="translate(483.70,364.85) rotate(-30)" text-anchor="end" class="xl">standing</text>
<line x1="541.40" y1="340.4" x2="541.40" y2="336.79999999999995" stroke="#262626" stroke-width="2"/>
<line x1="541.40" y1="29.7" x2="541.40" y2="33.3" stroke="#262626" stroke-width="2"/>
<text transform="translate(540.80,365.00) rotate(-30)" text-anchor="end" class="xl">jumping</text>
<line x1="598.40" y1="340.4" x2="598.40" y2="336.79999999999995" stroke="#262626" stroke-width="2"/>
<line x1="598.40" y1="29.7" x2="598.40" y2="33.3" stroke="#262626" stroke-width="2"/>
<text transform="translate(602.90,361.65) rotate(-30)" text-anchor="end" class="xl">slow</text>
<line x1="655.40" y1="340.4" x2="655.40" y2="336.79999999999995" stroke="#262626" stroke-width="2"/>
<line x1="655.40" y1="29.7" x2="655.40" y2="33.3" stroke="#262626" stroke-width="2"/>
<text transform="translate(659.35,362.45) rotate(-30)" text-anchor="end" class="xl">fast</text>
<text x="42.3" y="15.4" class="tb">a</text><text x="61.3" y="16.4" class="tt" textLength="211" lengthAdjust="spacingAndGlyphs">Change in case number</text>
<text x="408.8" y="15.4" class="tb">b</text><text x="427.0" y="16.4" class="tt" textLength="205.6" lengthAdjust="spacingAndGlyphs">Percentage change (%)</text>
<rect x="165.20" y="429.60" width="37.50" height="14.60" fill="#FFF4E3" stroke="#000" stroke-width="2"/>
<text x="206.0" y="442.6" class="lg">ssp245 (2028-2063)</text>
<rect x="165.20" y="458.70" width="37.50" height="14.60" fill="#FFC4C4" stroke="#000" stroke-width="2"/>
<text x="206.0" y="471.5" class="lg">ssp245 (2064-2099)</text>
<rect x="372.30" y="429.80" width="37.50" height="14.60" fill="#EE6A85" stroke="#000" stroke-width="2"/>
<text x="413.1" y="442.6" class="lg">ssp585 (2028-2063)</text>
<rect x="372.30" y="460.70" width="37.50" height="14.60" fill="#840F35" stroke="#000" stroke-width="2"/>
<text x="413.1" y="473.6" class="lg">ssp585 (2064-2099)</text>
</svg>
</body></html>
